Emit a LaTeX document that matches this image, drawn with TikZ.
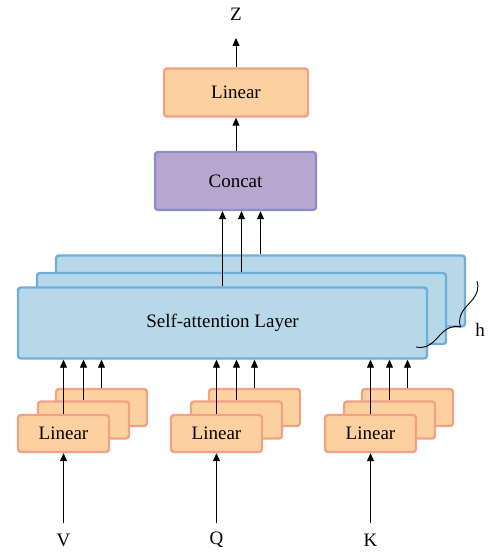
\documentclass[tikz,border=0pt]{standalone}
\usepackage{fontspec}
\setmainfont{Liberation Serif}
\usepackage{xcolor}
\usepackage{tikz}
\usetikzlibrary{arrows.meta,calc,decorations.pathreplacing}

\definecolor{linfill}{HTML}{FDD19F}
\definecolor{linedge}{HTML}{F0A285}
\definecolor{catfill}{HTML}{B7A7D0}
\definecolor{catedge}{HTML}{8C8DC6}
\definecolor{safill}{HTML}{B7D8E8}
\definecolor{saedge}{HTML}{6EAED7}

\begin{document}
\begin{tikzpicture}[x=1pt,y=-1pt,>={Triangle[length=8pt,width=7pt]},line join=round,
  txt/.style={font=\fontsize{19}{22}\selectfont},
  linbox/.style={txt,draw=linedge,fill=linfill,line width=2.4pt,rounded corners=3pt,
    minimum width=91pt,minimum height=37pt,inner sep=0pt},
  sabox/.style={txt,draw=saedge,fill=safill,line width=2.4pt,rounded corners=3pt,
    minimum width=409pt,minimum height=71pt,inner sep=0pt},
  catbox/.style={txt,draw=catedge,fill=catfill,line width=2.4pt,rounded corners=3pt,
    minimum width=161pt,minimum height=58pt,inner sep=0pt},
  conn/.style={->,line width=0.9pt}]
  \useasboundingbox (0,0) rectangle (487,553);
  % output side
  \node[txt] (Z) at (236,14) {Z};
  \coordinate (ZT) at (236,38);
  \node[linbox,minimum width=144pt,minimum height=48pt] (LO) at (236,92.5) {Linear};
  \node[catbox] (CC) at (235.5,181) {Concat};
  % self-attention stack, back to front
  \node[sabox] (SA3) at (260.5,291) {};
  \node[sabox] (SA2) at (241.5,308.5) {};
  \node[sabox] (SA1) at (222.5,323) {Self-attention Layer};
  % linear stacks for V, Q, K
  \node[linbox] (LV3) at (101.5,407.5) {};
  \node[linbox] (LV2) at (83.5,420) {};
  \node[linbox] (LV1) at (63.5,433.5) {Linear};
  \node[linbox] (LQ3) at (254.5,407.5) {};
  \node[linbox] (LQ2) at (236.5,420) {};
  \node[linbox] (LQ1) at (216.5,433.5) {Linear};
  \node[linbox] (LK3) at (407.5,407.5) {};
  \node[linbox] (LK2) at (389.5,420) {};
  \node[linbox] (LK1) at (370.5,433.5) {Linear};
  \node[txt] (V) at (63.5,540) {V};
  \node[txt] (Q) at (216.5,540) {Q};
  \node[txt] (K) at (370.5,540) {K};
  \node[txt] (H) at (480,330) {h};
  \coordinate (VB) at (63.5,523);
  \coordinate (QB) at (216.5,523);
  \coordinate (KB) at (370.5,523);
  % connectors
  \draw[conn] (VB) -- (LV1.south);
  \draw[conn] (QB) -- (LQ1.south);
  \draw[conn] (KB) -- (LK1.south);
  \draw[conn] (LV3.north) -- (LV3.north |- SA1.south);
  \draw[conn] (LV2.north) -- (LV2.north |- SA1.south);
  \draw[conn] (LV1.north) -- (LV1.north |- SA1.south);
  \draw[conn] (LQ3.north) -- (LQ3.north |- SA1.south);
  \draw[conn] (LQ2.north) -- (LQ2.north |- SA1.south);
  \draw[conn] (LQ1.north) -- (LQ1.north |- SA1.south);
  \draw[conn] (LK3.north) -- (LK3.north |- SA1.south);
  \draw[conn] (LK2.north) -- (LK2.north |- SA1.south);
  \draw[conn] (LK1.north) -- (LK1.north |- SA1.south);
  \draw[conn] (SA3.north) -- (SA3.north |- CC.south);
  \draw[conn] (SA2.north) -- (SA2.north |- CC.south);
  \draw[conn] (SA1.north) -- (SA1.north |- CC.south);
  \draw[conn] (CC.north -| LO.south) -- (LO.south);
  \draw[conn] (LO.north) -- (ZT);
  % brace for the h heads
  \draw[line width=0.9pt,decorate,decoration={brace,mirror,amplitude=19pt}] (416,347) -- (477,281);
\end{tikzpicture}
\end{document}
